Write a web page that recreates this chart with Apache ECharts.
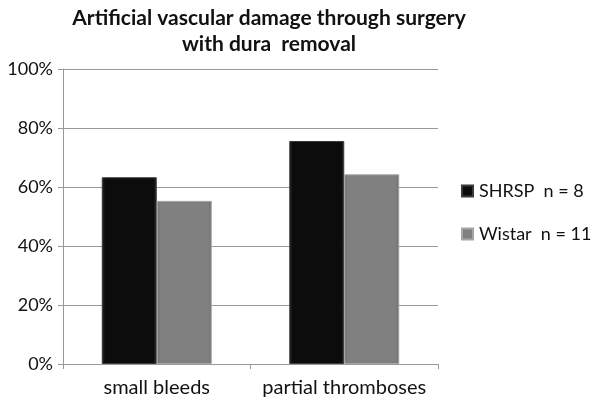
<!DOCTYPE html>
<html>
<head>
<meta charset="utf-8">
<script src="https://cdn.jsdelivr.net/npm/echarts@6/dist/echarts.min.js"></script>
<style>
    html, body { margin: 0; padding: 0; background: #fff; }
    #chart { width: 600px; height: 407px; }
</style>
</head>
<body>
<div id="chart"></div>
<script>
// values (percent)
var categories = ['small bleeds', 'partial thromboses'];
var shrsp = [63.3, 75.6];
var wistar = [55.3, 64.3];
var seriesNames = ['SHRSP', 'Wistar'];
var groupSizes = [8, 11];
var yTicks = [0, 20, 40, 60, 80, 100];

var chart = echarts.init(document.getElementById('chart'));

function barStyle(top, mid, edge) {
    return {
        color: new echarts.graphic.LinearGradient(0, 0, 1, 0, [
            { offset: 0, color: edge },
            { offset: 0.06, color: mid },
            { offset: 0.94, color: mid },
            { offset: 1, color: edge }
        ]),
        borderColor: top,
        borderWidth: 1
    };
}

var option = {
    animation: false,
    textStyle: { fontFamily: 'Lato' },
    title: {
        text: 'Artificial vascular damage through surgery\nwith dura  removal',
        left: 264,
        top: 0,
        textAlign: 'center',
        textStyle: {
            fontFamily: 'Lato',
            fontSize: 21,
            fontWeight: 'bold',
            color: '#111',
            lineHeight: 26
        }
    },
    legend: {
        orient: 'vertical',
        left: 456,
        top: 177,
        itemWidth: 11,
        itemHeight: 11,
        itemGap: 25,
        icon: 'rect',
        data: seriesNames,
        formatter: function (name) {
            return name + '  n = ' + groupSizes[seriesNames.indexOf(name)];
        },
        textStyle: { fontFamily: 'Lato', fontSize: 18, color: '#111', padding: [0, 0, 0, 1] }
    },
    grid: { left: 63, right: 162, top: 69, bottom: 43 },
    xAxis: {
        type: 'category',
        data: categories,
        axisLine: { lineStyle: { color: '#999' } },
        axisTick: { show: true, length: 5, lineStyle: { color: '#999' } },
        axisLabel: { fontFamily: 'Lato', fontSize: 20, color: '#111', margin: 14, interval: 0, hideOverlap: false }
    },
    yAxis: {
        type: 'value',
        min: yTicks[0],
        max: yTicks[yTicks.length - 1],
        interval: 20,
        axisLine: { show: true, lineStyle: { color: '#999' } },
        axisTick: { show: true, length: 5, lineStyle: { color: '#999' } },
        splitLine: { lineStyle: { color: '#999' } },
        axisLabel: {
            fontFamily: 'Lato', fontSize: 18, color: '#111', margin: 10,
            formatter: '{value}%'
        }
    },
    series: [
        {
            name: seriesNames[0],
            type: 'bar',
            barWidth: 55,
            barGap: '0%',
            itemStyle: barStyle('#3a3a3a', '#0c0c0c', '#2a2a2a'),
            data: shrsp
        },
        {
            name: seriesNames[1],
            type: 'bar',
            barWidth: 55,
            barGap: '0%',
            itemStyle: barStyle('#a6a6a6', '#808080', '#6a6a6a'),
            data: wistar
        }
    ]
};
chart.setOption(option);
</script>
</body>
</html>
